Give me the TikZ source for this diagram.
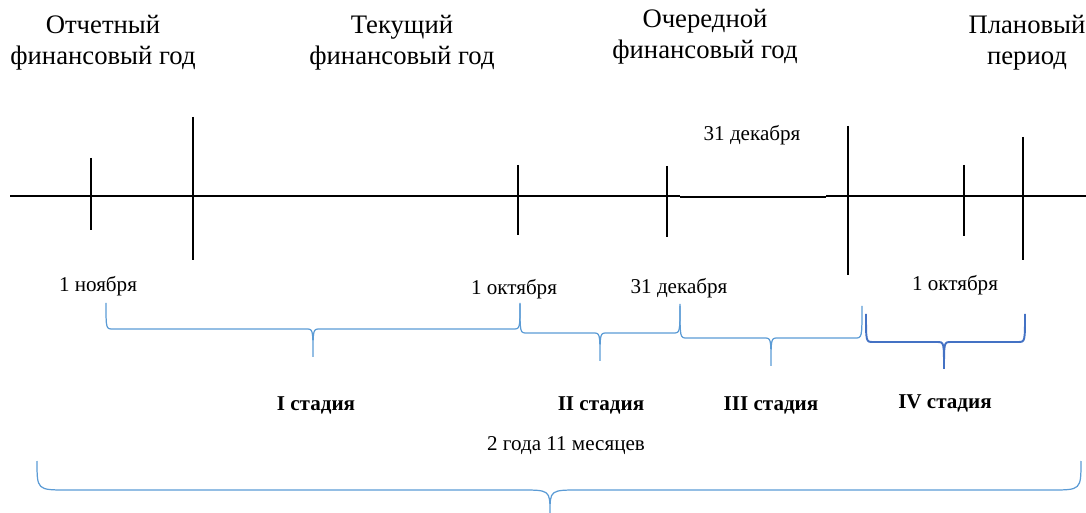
\documentclass[tikz,border=0pt]{standalone}
\usepackage{fontspec}
\setmainfont{Liberation Serif}
\definecolor{bl}{HTML}{5B9BD5}
\definecolor{bd}{HTML}{4472C4}
\newcommand{\wbrace}[8]{% style, x1, x2, xm, ytop, yh, ytip, r
  \draw[#1] (#2,#5) .. controls (#2,#6) and (#2,#6) .. ({#2+#8},#6) -- ({#4-#8},#6)
    .. controls (#4,#6) and (#4,#6) .. (#4,#7)
    .. controls (#4,#6) and (#4,#6) .. ({#4+#8},#6) -- ({#3-#8},#6)
    .. controls (#3,#6) and (#3,#6) .. (#3,#5);}
\begin{document}
\begin{tikzpicture}[x=0.02cm,y=-0.02cm,
  title/.style={font=\fontsize{15.2}{17.6}\selectfont, align=center, inner sep=0pt},
  date/.style={font=\fontsize{12}{13}\selectfont, inner sep=0pt},
  stage/.style={font=\fontsize{12}{13}\selectfont\bfseries, inner sep=0pt},
  axis/.style={line width=1.4pt},
  thin axis/.style={line width=0.7pt},
  tick/.style={line width=0.8pt},
  lb/.style={draw=bl, line width=0.7pt},
  db/.style={draw=bd, line width=1.1pt}]
\useasboundingbox (0,0) rectangle (1086,513);
% titles
\node[title] (t1) at (103,43) {Отчетный\\финансовый год};
\node[title] (t2) at (402,43) {Текущий\\финансовый год};
\node[title] (t3) at (705,37) {Очередной\\финансовый год};
\node[title] (t4) at (1027,43) {Плановый\\период};
% axis
\coordinate (a0) at (10,196);
\coordinate (a1) at (680,196);
\coordinate (a2) at (680,197);
\coordinate (a3) at (826,197);
\coordinate (a4) at (826,196);
\coordinate (a5) at (1086,196);
\draw[axis] (a0) -- (a1);
\draw[thin axis] (a2) -- (a3);
\draw[axis] (a4) -- (a5);
% ticks
\draw[tick] (91,158) -- (91,230);
\draw[tick] (193,117) -- (193,260);
\draw[tick] (518,165) -- (518,235);
\draw[tick] (667,166) -- (667,237);
\draw[tick] (848,126) -- (848,275);
\draw[tick] (964,165) -- (964,236);
\draw[tick] (1023,137) -- (1023,260);
% dates
\node[date] (d0) at (752,135) {31 декабря};
\node[date] (d1) at (98,286) {1 ноября};
\node[date] (d2) at (514,289) {1 октября};
\node[date] (d3) at (679,288) {31 декабря};
\node[date] (d4) at (955,285) {1 октября};
% braces
\wbrace{lb}{106}{520}{313}{303}{329}{357}{7}
\wbrace{lb}{520}{680}{600}{304}{333}{361}{7}
\wbrace{lb}{680}{862}{771}{306}{338}{366}{7}
\wbrace{db}{866}{1025}{944}{314}{342}{369}{7}
\wbrace{lb}{37}{1081}{550}{461}{490}{513}{30}
% stages
\node[stage] (s1) at (316,405) {I стадия};
\node[stage] (s2) at (601,405) {II стадия};
\node[stage] (s3) at (771,405) {III стадия};
\node[stage] (s4) at (945,403) {IV стадия};
\node[date] (tot) at (566,446) {2 года 11 месяцев};
\end{tikzpicture}
\end{document}
